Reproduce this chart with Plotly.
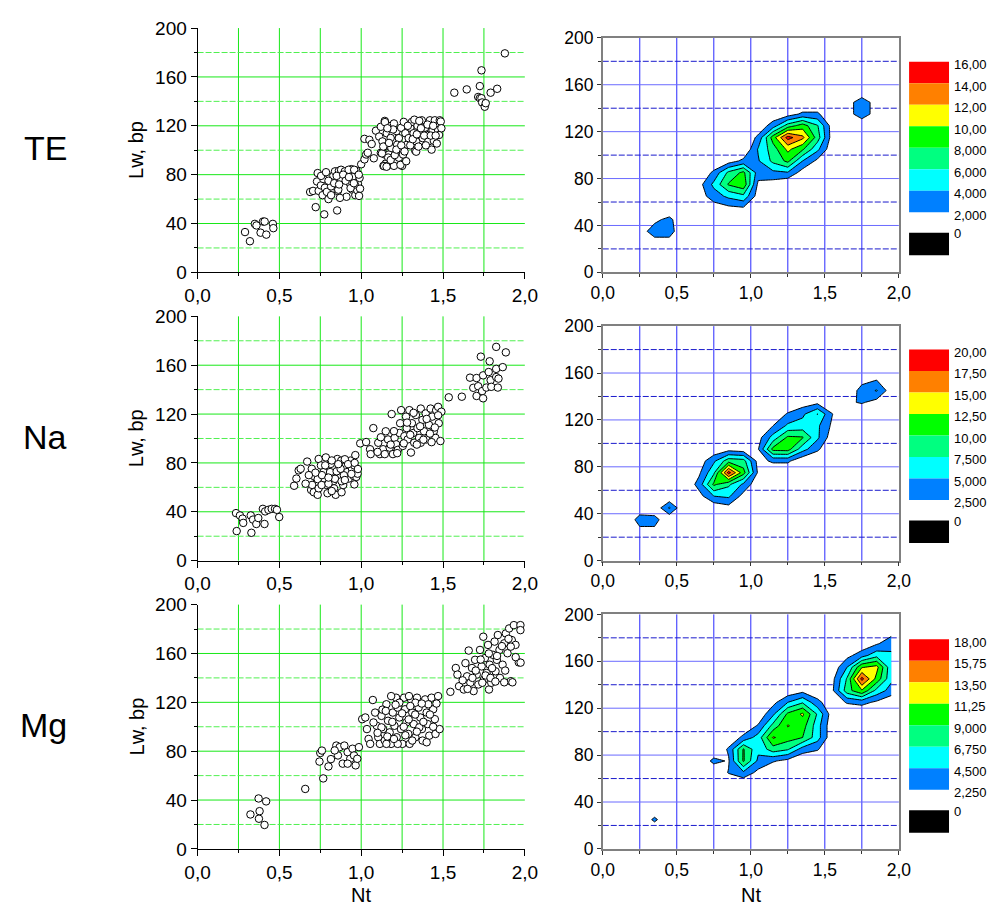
import plotly.graph_objects as go

# ---------------- scatter data (Nt, Lw) ----------------
te_points = [
    (0.29, 33), (0.32, 25.5), (0.35, 39.7), (0.36, 38.4), (0.385, 32.5), (0.40, 41.6), (0.41, 41.6),
    (0.42, 30.9), (0.46, 39.7), (0.463, 36.2),
    (0.688, 65.8), (0.706, 66.7), (0.722, 53.4), (0.734, 81.3), (0.73, 74.4), (0.74, 66.7), (0.754, 71.2),
    (0.764, 63.2), (0.774, 47.5), (0.768, 76.5), (0.778, 69.3), (0.80, 60.0), (0.79, 65.9), (0.816, 70.4),
    (0.82, 75.2), (0.83, 79.2), (0.84, 82.7), (0.853, 50.7), (0.857, 66.6), (0.864, 83.2), (0.876, 77.9),
    (0.86, 67.7), (0.816, 63.2), (0.881, 82.1), (0.877, 84.0), (0.90, 82.7), (0.92, 80.5), (0.91, 61.9),
    (0.93, 73.1), (0.94, 84.5), (0.95, 78.4), (0.946, 67.7), (0.964, 63.2), (0.976, 67.2), (0.98, 72.5),
    (0.99, 77.3), (0.97, 83.2), (1.0, 88.5), (1.02, 92.5), (1.03, 96.5), (1.04, 97.9), (1.02, 109.3),
    (1.05, 108.5), (1.064, 105.1), (1.077, 93.4), (1.09, 116), (0.873, 76.5), (0.913, 78.7), (0.923, 84),
    (0.957, 84), (0.961, 71.9), (0.993, 68.5), (0.987, 62.6),
    (0.80, 75), (0.835, 73), (0.85, 79), (0.865, 72), (0.89, 80), (0.905, 75), (0.925, 78), (0.935, 69),
    (0.955, 73), (0.985, 80), (0.87, 61), (0.755, 79), (0.785, 82),
    (1.12, 119.2), (1.144, 124), (1.11, 111.2), (1.13, 107.2), (1.156, 113.9), (1.15, 103.2), (1.12, 97.9),
    (1.144, 96.5), (1.17, 96.5), (1.15, 89.1), (1.136, 87.2), (1.16, 87.2), (1.20, 87.2), (1.25, 87.2),
    (1.184, 101.9), (1.20, 107.2), (1.19, 112.5), (1.18, 120), (1.20, 121.9), (1.216, 115.7), (1.23, 109.9),
    (1.22, 104.5), (1.24, 99.2), (1.216, 96.5), (1.23, 93.9), (1.256, 96.5), (1.244, 118.4), (1.26, 123.2),
    (1.27, 113.9), (1.28, 104.5), (1.29, 109.9), (1.30, 118.4), (1.31, 123.2), (1.32, 113.9), (1.33, 99.7),
    (1.336, 107.2), (1.344, 120), (1.36, 115.2), (1.37, 124.5), (1.376, 109.9), (1.39, 118.4), (1.40, 112.5),
    (1.41, 107.2), (1.42, 124.5), (1.43, 100.5), (1.436, 116.5), (1.444, 107.7), (1.45, 124.5), (1.46, 119.2),
    (1.47, 116.5), (1.48, 124.5), (1.476, 112.5), (1.145, 123), (1.127, 97.4), (1.336, 98.8), (1.462, 105.5),
    (1.486, 123.5),
    (1.14, 87), (1.155, 86.5), (1.165, 94), (1.18, 92), (1.205, 96), (1.215, 100.5), (1.24, 88), (1.245, 104),
    (1.265, 99), (1.275, 91), (1.285, 120), (1.30, 104), (1.315, 109), (1.325, 125), (1.34, 113), (1.35, 103),
    (1.355, 124), (1.365, 118), (1.385, 112), (1.395, 104), (1.405, 121), (1.425, 112), (1.44, 120),
    (1.455, 112), (1.49, 118), (1.18, 110), (1.195, 117), (1.16, 118), (1.135, 103), (1.17, 106),
    (1.569, 147.1), (1.645, 149.8), (1.725, 152.5), (1.735, 165.4), (1.715, 143.6), (1.725, 142.6),
    (1.735, 142.6), (1.739, 139.1), (1.755, 135.6), (1.761, 138.5), (1.791, 147.1), (1.831, 150.3),
    (1.878, 179.3),
]

na_points = [
    (0.235, 38.9), (0.259, 37), (0.275, 34.4), (0.279, 30.9), (0.239, 24.2), (0.325, 37), (0.339, 33.6),
    (0.359, 30), (0.371, 34.9), (0.329, 22.8), (0.399, 42.4), (0.413, 40.3), (0.409, 30), (0.433, 41.6),
    (0.453, 42.4), (0.473, 42.4), (0.485, 41.6), (0.499, 35.7),
    (0.59, 61.3), (0.604, 67.2), (0.618, 73.9), (0.63, 75.2), (0.67, 81.1), (0.698, 75.2), (0.71, 69.3),
    (0.724, 63.2), (0.694, 57.9), (0.71, 56), (0.734, 53.9), (0.74, 59.2), (0.74, 83.2), (0.754, 77.9),
    (0.77, 72.5), (0.774, 67.2), (0.784, 84.5), (0.79, 61.9), (0.814, 79.2), (0.824, 70.4), (0.83, 65.1),
    (0.834, 59.2), (0.844, 53.9), (0.854, 83.2), (0.864, 75.7), (0.874, 69.3), (0.878, 81.9), (0.89, 61.9),
    (0.904, 77.3), (0.914, 72.5), (0.924, 67.2), (0.934, 81.9), (0.944, 75.2), (0.954, 69.3), (0.958, 77.9),
    (0.964, 86.4), (0.97, 68.5), (0.978, 71.2), (0.958, 62.4), (0.794, 55.2), (0.734, 66.7), (0.758, 61.9),
    (0.81, 72.5), (0.85, 73.1), (0.894, 69.9), (0.874, 75.2),
    (0.78, 78), (0.80, 63), (0.82, 82), (0.84, 67), (0.86, 79), (0.88, 65), (0.90, 83), (0.92, 79),
    (0.94, 71), (0.96, 80), (0.98, 75), (0.76, 70), (0.72, 72), (0.70, 62), (0.66, 63), (0.68, 70),
    (0.82, 57), (0.88, 56), (0.90, 66), (0.80, 68),
    (0.994, 96), (1.03, 97.1), (1.054, 91.2), (1.058, 87.2), (1.074, 108.5), (1.104, 96.5), (1.114, 87.2),
    (1.134, 91.2), (1.144, 87.2), (1.15, 105.9), (1.164, 99.2), (1.174, 92.5), (1.186, 120), (1.194, 87.2),
    (1.204, 100.5), (1.214, 95.2), (1.224, 90.7), (1.234, 104.5), (1.238, 112.5), (1.244, 123.2),
    (1.254, 93.9), (1.264, 101.9), (1.274, 117.9), (1.278, 108.5), (1.284, 99.2), (1.294, 123.2),
    (1.304, 88.5), (1.31, 112.5), (1.318, 104.5), (1.324, 96.5), (1.334, 119.2), (1.344, 108.5),
    (1.354, 100.5), (1.364, 124.5), (1.364, 96.5), (1.374, 115.2), (1.384, 105.9), (1.394, 120.5),
    (1.398, 99.2), (1.414, 111.2), (1.424, 124.5), (1.434, 117.9), (1.444, 105.9), (1.454, 100.5),
    (1.458, 123.2), (1.47, 125.9), (1.474, 112.5), (1.484, 97.9), (1.49, 121.9),
    (1.10, 89), (1.12, 101), (1.18, 95), (1.20, 106), (1.22, 88), (1.26, 96), (1.28, 113), (1.30, 103),
    (1.32, 121), (1.34, 95), (1.36, 110), (1.38, 99), (1.40, 116), (1.42, 104), (1.45, 109), (1.47, 119),
    (1.43, 97),
    (1.535, 133.7), (1.615, 134.2), (1.665, 149.8), (1.685, 141.5), (1.705, 149.5), (1.705, 134.8),
    (1.715, 142.8), (1.731, 167), (1.739, 138.8), (1.745, 132.9), (1.745, 151.7), (1.765, 141.7),
    (1.785, 163.2), (1.779, 154.4), (1.791, 147.7), (1.795, 142.3), (1.825, 175), (1.825, 157),
    (1.825, 150.3), (1.835, 141.7), (1.839, 149), (1.865, 158.4), (1.884, 170.5),
]

mg_points = [
    (0.323, 28.2), (0.373, 41.3), (0.379, 30.9), (0.375, 24.7), (0.419, 38.9), (0.409, 19.6),
    (0.658, 49.1), (0.768, 57.7), (0.75, 78.5), (0.745, 71.5), (0.76, 80.5), (0.80, 67.5), (0.815, 73.5),
    (0.848, 84.6), (0.868, 83.3), (0.897, 84.6), (0.917, 79.2), (0.933, 73.8), (0.947, 82), (0.956, 76.5),
    (0.966, 68.4), (0.976, 73.8), (0.986, 83.3), (0.887, 69.8), (0.917, 69.8), (0.858, 76.5), (0.838, 80.6),
    (1.006, 106.2), (1.025, 107.6), (1.035, 98.1), (1.045, 90), (1.055, 86), (1.071, 121.9), (1.085, 111.6),
    (1.095, 100.8), (1.104, 91.4), (1.114, 86), (1.124, 108.9), (1.134, 98.1), (1.144, 88.7), (1.154, 118.4),
    (1.164, 104.9), (1.174, 95.4), (1.183, 86), (1.193, 111.6), (1.203, 100.8), (1.213, 123.8), (1.217, 91.4),
    (1.223, 115.7), (1.233, 107.6), (1.243, 98.1), (1.252, 86), (1.262, 123.8), (1.268, 114.3),
    (1.276, 103.5), (1.288, 94.1), (1.296, 86), (1.304, 122.4), (1.312, 111.6), (1.321, 102.2),
    (1.331, 91.4), (1.341, 123.8), (1.351, 115.7), (1.361, 107.6), (1.371, 98.1), (1.375, 88.7),
    (1.391, 122.4), (1.40, 111.6), (1.406, 102.2), (1.416, 92.7), (1.43, 123.8), (1.44, 114.3),
    (1.45, 106.2), (1.454, 94.1), (1.47, 125.1), (1.479, 98.1), (1.40, 87.3), (1.312, 88.7), (1.223, 86),
    (1.154, 86), (1.183, 125.1), (1.292, 125.1), (1.355, 99.5), (1.124, 99.5), (1.075, 103.5),
    (1.233, 119.7), (1.331, 119.7), (1.41, 118.4),
    (1.10, 95), (1.13, 114), (1.16, 92), (1.19, 104), (1.21, 118), (1.25, 111), (1.27, 93), (1.29, 106),
    (1.30, 117), (1.33, 110), (1.34, 96), (1.37, 119), (1.38, 104), (1.42, 110), (1.44, 100), (1.46, 119),
    (1.26, 100), (1.20, 90), (1.15, 113),
    (1.545, 128.6), (1.578, 148.1), (1.588, 142.7), (1.598, 133.2), (1.627, 130.5), (1.637, 152.1),
    (1.647, 141.3), (1.657, 162.4), (1.667, 136), (1.677, 148.1), (1.687, 129.2), (1.696, 154.8),
    (1.706, 142.7), (1.716, 134.6), (1.726, 162.9), (1.736, 149.4), (1.746, 173.7), (1.75, 138.6),
    (1.756, 156.2), (1.766, 144), (1.775, 167), (1.781, 130.5), (1.785, 150.8), (1.795, 136),
    (1.805, 158.9), (1.815, 169.7), (1.821, 145.4), (1.829, 154.8), (1.835, 175.1), (1.845, 162.9),
    (1.848, 140), (1.864, 150.8), (1.874, 168.3), (1.884, 176.4), (1.894, 160.2), (1.904, 180.5),
    (1.914, 137.3), (1.92, 171), (1.933, 183.2), (1.943, 167), (1.963, 152.7), (1.973, 183.2),
    (1.973, 179.1), (1.914, 165.6), (1.874, 136.4), (1.924, 136.4), (1.974, 152.5), (1.944, 157),
    (1.65, 131), (1.70, 146), (1.73, 155), (1.76, 142), (1.78, 160), (1.80, 148), (1.83, 158), (1.86, 166),
    (1.88, 146), (1.90, 172), (1.74, 136), (1.68, 140), (1.62, 138), (1.79, 140), (1.82, 137),
]

# ---------------- density grids (bin counts) ----------------
grid_nt = [0.05, 0.15, 0.25, 0.35, 0.45, 0.55, 0.65, 0.75, 0.85, 0.95,
           1.05, 1.15, 1.25, 1.35, 1.45, 1.55, 1.65, 1.75, 1.85, 1.95]
grid_lw = [5, 15, 25, 35, 45, 55, 65, 75, 85, 95,
           105, 115, 125, 135, 145, 155, 165, 175, 185, 195]

te_density = [
    [0, 0, 0, 0, 0, 0, 0, 0, 0, 0, 0, 0, 0, 0, 0, 0, 0, 0, 0, 0],
    [0, 0, 0, 0, 0, 0, 0, 0, 0, 0, 0, 0, 0, 0, 0, 0, 0, 0, 0, 0],
    [0, 0, 0.5, 1, 1, 0, 0, 0, 0, 0, 0, 0, 0, 0, 0, 0, 0, 0, 0, 0],
    [0, 0, 1, 3, 3, 0, 0, 0, 0, 0, 0, 0, 0, 0, 0, 0, 0, 0, 0, 0],
    [0, 0, 0, 1.5, 2.6, 0, 0, 0, 0, 0, 0, 0, 0, 0, 0, 0, 0, 0, 0, 0],
    [0, 0, 0, 0, 0, 0, 0, 1, 1.5, 1.8, 0, 0, 0, 0, 0, 0, 0, 0, 0, 0],
    [0, 0, 0, 0, 0, 0, 1, 3, 4.5, 5.5, 1, 0, 0, 0, 0, 0, 0, 0, 0, 0],
    [0, 0, 0, 0, 0, 0, 1.2, 4.5, 8.2, 9.5, 1.5, 1, 0, 0, 0, 0, 0, 0, 0, 0],
    [0, 0, 0, 0, 0, 0, 0, 2.5, 6.5, 8.5, 3, 3.5, 3.8, 1, 0, 0, 0, 0, 0, 0],
    [0, 0, 0, 0, 0, 0, 0, 0, 1, 2.5, 3.8, 6.5, 8.5, 4, 1.5, 0, 0, 0, 0, 0],
    [0, 0, 0, 0, 0, 0, 0, 0, 0, 0, 4.2, 7, 10.5, 8.3, 4.5, 0.5, 0, 0, 0, 0],
    [0, 0, 0, 0, 0, 0, 0, 0, 0, 0, 2.5, 9, 14.8, 12.5, 7, 1, 0, 0, 0, 0],
    [0, 0, 0, 0, 0, 0, 0, 0, 0, 0, 0.5, 3, 7, 9, 6.2, 1, 0, 0.5, 0, 0],
    [0, 0, 0, 0, 0, 0, 0, 0, 0, 0, 0, 0.5, 1, 2.4, 2.4, 0, 1.2, 3, 1.2, 0],
    [0, 0, 0, 0, 0, 0, 0, 0, 0, 0, 0, 0, 0, 0, 0, 0, 1.2, 3, 1.2, 0],
    [0, 0, 0, 0, 0, 0, 0, 0, 0, 0, 0, 0, 0, 0, 0, 0, 0, 0.5, 0, 0],
    [0, 0, 0, 0, 0, 0, 0, 0, 0, 0, 0, 0, 0, 0, 0, 0, 0, 0, 0, 0],
    [0, 0, 0, 0, 0, 0, 0, 0, 0, 0, 0, 0, 0, 0, 0, 0, 0, 0, 0, 0],
    [0, 0, 0, 0, 0, 0, 0, 0, 0, 0, 0, 0, 0, 0, 0, 0, 0, 0, 0, 0],
    [0, 0, 0, 0, 0, 0, 0, 0, 0, 0, 0, 0, 0, 0, 0, 0, 0, 0, 0, 0],
]

na_density = [
    [0, 0, 0, 0, 0, 0, 0, 0, 0, 0, 0, 0, 0, 0, 0, 0, 0, 0, 0, 0],
    [0, 0, 0, 0, 0, 0, 0, 0, 0, 0, 0, 0, 0, 0, 0, 0, 0, 0, 0, 0],
    [0, 0, 1.8, 1.8, 0, 0, 0, 0, 0, 0, 0, 0, 0, 0, 0, 0, 0, 0, 0, 0],
    [0, 0.5, 3.5, 3.5, 0.3, 0, 0, 0, 0, 0, 0, 0, 0, 0, 0, 0, 0, 0, 0, 0],
    [0, 0, 1.0, 0.5, 5.3, 0, 0, 0.5, 1.5, 0, 0, 0, 0, 0, 0, 0, 0, 0, 0, 0],
    [0, 0, 0, 0, 0, 0, 1.5, 5, 5.5, 1.5, 0, 0, 0, 0, 0, 0, 0, 0, 0, 0],
    [0, 0, 0, 0, 0, 0, 3.5, 10.5, 8, 4.5, 0.5, 0, 0, 0, 0, 0, 0, 0, 0, 0],
    [0, 0, 0, 0, 0, 0, 2, 7, 18.5, 11, 2, 0, 0, 0, 0, 0, 0, 0, 0, 0],
    [0, 0, 0, 0, 0, 0, 1, 4.5, 9, 8.5, 1.5, 3, 3, 0.5, 0, 0, 0, 0, 0, 0],
    [0, 0, 0, 0, 0, 0, 0, 0.5, 1.5, 1, 2.4, 10.8, 11, 6, 3, 0, 0, 0, 0, 0],
    [0, 0, 0, 0, 0, 0, 0, 0, 0, 0, 1.5, 6, 10.5, 10.2, 5.5, 1, 0, 0, 0, 0],
    [0, 0, 0, 0, 0, 0, 0, 0, 0, 0, 0, 2.5, 5.5, 6, 5.5, 2, 0, 0, 0, 0],
    [0, 0, 0, 0, 0, 0, 0, 0, 0, 0, 0, 0.5, 2.8, 4.5, 7.6, 2.6, 0, 0, 0, 0],
    [0, 0, 0, 0, 0, 0, 0, 0, 0, 0, 0, 0, 0, 1, 1.8, 0.5, 2, 2.8, 1.5, 0],
    [0, 0, 0, 0, 0, 0, 0, 0, 0, 0, 0, 0, 0, 0, 0, 0, 0.5, 3.5, 5.2, 1],
    [0, 0, 0, 0, 0, 0, 0, 0, 0, 0, 0, 0, 0, 0, 0, 0, 0, 1.5, 2.2, 0],
    [0, 0, 0, 0, 0, 0, 0, 0, 0, 0, 0, 0, 0, 0, 0, 0, 0, 0, 0, 0],
    [0, 0, 0, 0, 0, 0, 0, 0, 0, 0, 0, 0, 0, 0, 0, 0, 0, 0, 0, 0],
    [0, 0, 0, 0, 0, 0, 0, 0, 0, 0, 0, 0, 0, 0, 0, 0, 0, 0, 0, 0],
    [0, 0, 0, 0, 0, 0, 0, 0, 0, 0, 0, 0, 0, 0, 0, 0, 0, 0, 0, 0],
]

mg_density = [
    [0, 0, 0, 0, 0, 0, 0, 0, 0, 0, 0, 0, 0, 0, 0, 0, 0, 0, 0, 0],
    [0, 0, 0, 0, 0, 0, 0, 0, 0, 0, 0, 0, 0, 0, 0, 0, 0, 0, 0, 0],
    [0, 0, 0, 2.8, 0, 0, 0, 0, 0, 0, 0, 0, 0, 0, 0, 0, 0, 0, 0, 0],
    [0, 0, 0, 0, 0, 0, 0, 0, 0, 0, 0, 0, 0, 0, 0, 0, 0, 0, 0, 0],
    [0, 0, 0, 0, 0, 0, 0, 0, 0, 0, 0, 0, 0, 0, 0, 0, 0, 0, 0, 0],
    [0, 0, 0, 0, 0, 0, 0, 0, 0, 0, 0, 0, 0, 0, 0, 0, 0, 0, 0, 0],
    [0, 0, 0, 0, 0, 0, 0, 0, 2.4, 4, 1.5, 0, 0, 0, 0, 0, 0, 0, 0, 0],
    [0, 0, 0, 0, 0, 0, 0, 3, 2, 9.3, 4, 2.5, 1.5, 0, 0, 0, 0, 0, 0, 0],
    [0, 0, 0, 0, 0, 0, 0, 0, 2.6, 9.2, 5, 8, 7, 3.5, 2.5, 0, 0, 0, 0, 0],
    [0, 0, 0, 0, 0, 0, 0, 0, 0.5, 2.8, 5.5, 11.5, 10, 9, 5.5, 0.5, 0, 0, 0, 0],
    [0, 0, 0, 0, 0, 0, 0, 0, 0, 0.5, 2.5, 7.5, 11.4, 10, 5.5, 0.5, 0, 0, 0, 0],
    [0, 0, 0, 0, 0, 0, 0, 0, 0, 0, 0.5, 4, 9.5, 11.6, 6.5, 1, 0, 0, 0, 0],
    [0, 0, 0, 0, 0, 0, 0, 0, 0, 0, 0, 1.5, 4.5, 6.5, 3, 0.5, 2.5, 3, 1.8, 0.5],
    [0, 0, 0, 0, 0, 0, 0, 0, 0, 0, 0, 0, 0.5, 1.5, 0.5, 1.8, 8, 11, 6, 3.5],
    [0, 0, 0, 0, 0, 0, 0, 0, 0, 0, 0, 0, 0, 0, 0, 1.5, 7, 16.5, 10.5, 5],
    [0, 0, 0, 0, 0, 0, 0, 0, 0, 0, 0, 0, 0, 0, 0, 0.5, 4.5, 11, 12, 5],
    [0, 0, 0, 0, 0, 0, 0, 0, 0, 0, 0, 0, 0, 0, 0, 0, 1.5, 3.5, 6, 5],
    [0, 0, 0, 0, 0, 0, 0, 0, 0, 0, 0, 0, 0, 0, 0, 0, 0, 0.5, 2, 3.5],
    [0, 0, 0, 0, 0, 0, 0, 0, 0, 0, 0, 0, 0, 0, 0, 0, 0, 0, 0, 1.5],
    [0, 0, 0, 0, 0, 0, 0, 0, 0, 0, 0, 0, 0, 0, 0, 0, 0, 0, 0, 0],
]

# contour level steps (first level = step, 8 levels)
level_steps = [2.0, 2.5, 2.25]
te_level_labels = ["16,00", "14,00", "12,00", "10,00", "8,000", "6,000", "4,000", "2,000"]
na_level_labels = ["20,00", "17,50", "15,00", "12,50", "10,00", "7,500", "5,000", "2,500"]
mg_level_labels = ["18,00", "15,75", "13,50", "11,25", "9,000", "6,750", "4,500", "2,250"]
row_names = ["TE", "Na", "Mg"]

# gridline positions
nt_grid = [0.25, 0.5, 0.75, 1.0, 1.25, 1.5, 1.75]
lw_major_grid = [40, 80, 120, 160]
lw_minor_grid = [20, 60, 100, 140, 180]

# ---------------- styling / layout (pixel geometry, snapped to pixel centres) ----------------
FONT = "Liberation Sans, Arial, sans-serif"
W, H = 1000, 920
band_colors = ["#ff0000", "#ff8000", "#ffff00", "#00ff00", "#00ff80", "#00ffff", "#0080ff"]
CS = [[0, "rgba(255,255,255,0)"], [0.125, "#0080ff"], [0.25, "#00ffff"], [0.375, "#00ff80"],
      [0.5, "#00ff00"], [0.625, "#ffff00"], [0.75, "#ff8000"], [0.875, "#ff0000"], [1, "#ff0000"]]

left_x_px = (189.5, 525.5)
right_x_px = (605.5, 909.5)
bottoms = [268.5, 563.5, 858.5]
left_h, right_h = 250, 240
legend_top = [53, 347.5, 644]


def py(Y):
    return 1 - Y / H


fig = go.Figure()
layout = dict(
    width=W, height=H, margin=dict(l=0, r=0, t=0, b=0),
    paper_bgcolor="white", plot_bgcolor="white", showlegend=False,
    separators=", ", font=dict(family=FONT, size=17, color="black"),
)

scatter_sets = [te_points, na_points, mg_points]
densities = [te_density, na_density, mg_density]
labels = [te_level_labels, na_level_labels, mg_level_labels]
shapes = []
annotations = []


def grid_shapes(xname, yname, vcol, hcol, hminor):
    out = []
    for v in nt_grid:
        out.append(dict(type="line", xref=xname, yref=f"{yname} domain", x0=v, x1=v, y0=0, y1=1,
                        line=dict(color=vcol, width=1), layer="below"))
    for v in lw_major_grid:
        out.append(dict(type="line", xref=f"{xname} domain", yref=yname, x0=0, x1=1, y0=v, y1=v,
                        line=dict(color=hcol, width=1), layer="below"))
    for v in lw_minor_grid:
        out.append(dict(type="line", xref=f"{xname} domain", yref=yname, x0=0, x1=1, y0=v, y1=v,
                        line=dict(color=hminor, width=1, dash="6px,2px"), layer="below"))
    return out


for r in range(3):
    li, ri = 2 * r + 1, 2 * r + 2
    lx = "x" if li == 1 else f"x{li}"
    ly = "y" if li == 1 else f"y{li}"
    rx, ry = f"x{ri}", f"y{ri}"
    pts = scatter_sets[r]
    fig.add_trace(go.Scatter(
        x=[p[0] for p in pts], y=[p[1] for p in pts], mode="markers", xaxis=lx, yaxis=ly,
        cliponaxis=False,
        marker=dict(symbol="circle", size=7.5, color="white", line=dict(color="black", width=1)),
        hoverinfo="skip"))
    s = level_steps[r]
    fig.add_trace(go.Contour(
        x=grid_nt, y=grid_lw, z=densities[r], xaxis=rx, yaxis=ry,
        autocontour=False,
        contours=dict(start=s, end=8 * s, size=s, coloring="fill", showlines=True),
        line=dict(color="black", width=1, smoothing=0),
        colorscale=CS, showscale=False, hoverinfo="skip"))

    green_x = dict(range=[0, 2], tickmode="linear", tick0=0, dtick=0.5, tickformat=".1f",
                   showline=True, linecolor="black", linewidth=1, ticks="outside", ticklen=6,
                   tickcolor="black", showgrid=False, zeroline=False,
                   minor=dict(tick0=0, dtick=0.25, ticks="outside", ticklen=3, tickcolor="black",
                              showgrid=False),
                   tickfont=dict(size=19), fixedrange=True)
    green_y = dict(range=[0, 200], tickmode="linear", tick0=0, dtick=40,
                   showline=True, linecolor="black", linewidth=1, ticks="outside", ticklen=6,
                   tickcolor="black", showgrid=False, zeroline=False,
                   minor=dict(tick0=0, dtick=20, ticks="outside", ticklen=3, tickcolor="black",
                              showgrid=False),
                   tickfont=dict(size=19), fixedrange=True)
    blue_x = dict(range=[0, 2], tickmode="linear", tick0=0, dtick=0.5, tickformat=".1f",
                  showline=True, linecolor="#808080", linewidth=1.5, mirror=True, ticks="outside",
                  ticklen=4, tickcolor="#333333", showgrid=False, zeroline=False,
                  minor=dict(tick0=0, dtick=0.25, ticks="outside", ticklen=3, tickcolor="#333333",
                             showgrid=False),
                  tickfont=dict(size=17.5), fixedrange=True)
    blue_y = dict(range=[0, 200], tickmode="linear", tick0=0, dtick=40,
                  showline=True, linecolor="#808080", linewidth=1.5, mirror=True, ticks="outside",
                  ticklen=4, tickcolor="#333333", showgrid=False, zeroline=False,
                  minor=dict(tick0=0, dtick=20, ticks="outside", ticklen=3, tickcolor="#333333",
                             showgrid=False),
                  tickfont=dict(size=17.5), fixedrange=True)

    B = bottoms[r]
    layout["xaxis" if li == 1 else f"xaxis{li}"] = dict(
        green_x, domain=[left_x_px[0] / W, left_x_px[1] / W], anchor=ly)
    layout["yaxis" if li == 1 else f"yaxis{li}"] = dict(
        green_y, domain=[py(B), py(B - left_h)], anchor=lx)
    layout[f"xaxis{ri}"] = dict(blue_x, domain=[right_x_px[0] / W, right_x_px[1] / W], anchor=ry)
    layout[f"yaxis{ri}"] = dict(blue_y, domain=[py(B), py(B - right_h)], anchor=rx)

    shapes += grid_shapes(lx, ly, "#18e818", "#18e818", "#50f050")
    shapes += grid_shapes(rx, ry, "#2a2aff", "#6a6aff", "#1a1acc")

    # row label
    annotations.append(dict(text=row_names[r], xref="paper", yref="paper", x=58 / W,
                            y=py(B - left_h / 2 - 2), xanchor="right",
                            yanchor="middle", showarrow=False, font=dict(size=34, family=FONT)))
    # y title
    annotations.append(dict(text="Lw, bp", xref="paper", yref="paper", x=127 / W,
                            y=py(B - left_h / 2), xanchor="center",
                            yanchor="middle", textangle=-90, showarrow=False,
                            font=dict(size=20, family=FONT)))

    # discrete legend
    T = legend_top[r]
    for i, c in enumerate(band_colors):
        shapes.append(dict(type="rect", xref="paper", yref="paper", x0=920 / W, x1=961 / W,
                           y0=py(T + 22 * (i + 1)), y1=py(T + 22 * i), fillcolor=c,
                           line=dict(width=0), layer="above"))
    shapes.append(dict(type="rect", xref="paper", yref="paper", x0=920 / W, x1=961 / W,
                       y0=py(T + 198), y1=py(T + 175), fillcolor="black",
                       line=dict(width=0), layer="above"))
    for i, t in enumerate(labels[r]):
        annotations.append(dict(text=t, xref="paper", yref="paper", x=964 / W,
                                y=py(T + 22 * i + 3), xanchor="left", yanchor="middle",
                                showarrow=False, font=dict(size=13, family=FONT)))
    annotations.append(dict(text="0", xref="paper", yref="paper", x=964 / W,
                            y=py(T + 176), xanchor="left", yanchor="middle",
                            showarrow=False, font=dict(size=13, family=FONT)))

for xc in (357, 758):
    annotations.append(dict(text="Nt", xref="paper", yref="paper", x=xc / W, y=py(906),
                            xanchor="center", yanchor="middle", showarrow=False,
                            font=dict(size=20, family=FONT)))

layout["shapes"] = shapes
layout["annotations"] = annotations
fig.update_layout(**layout)
fig.write_html("out.html")
